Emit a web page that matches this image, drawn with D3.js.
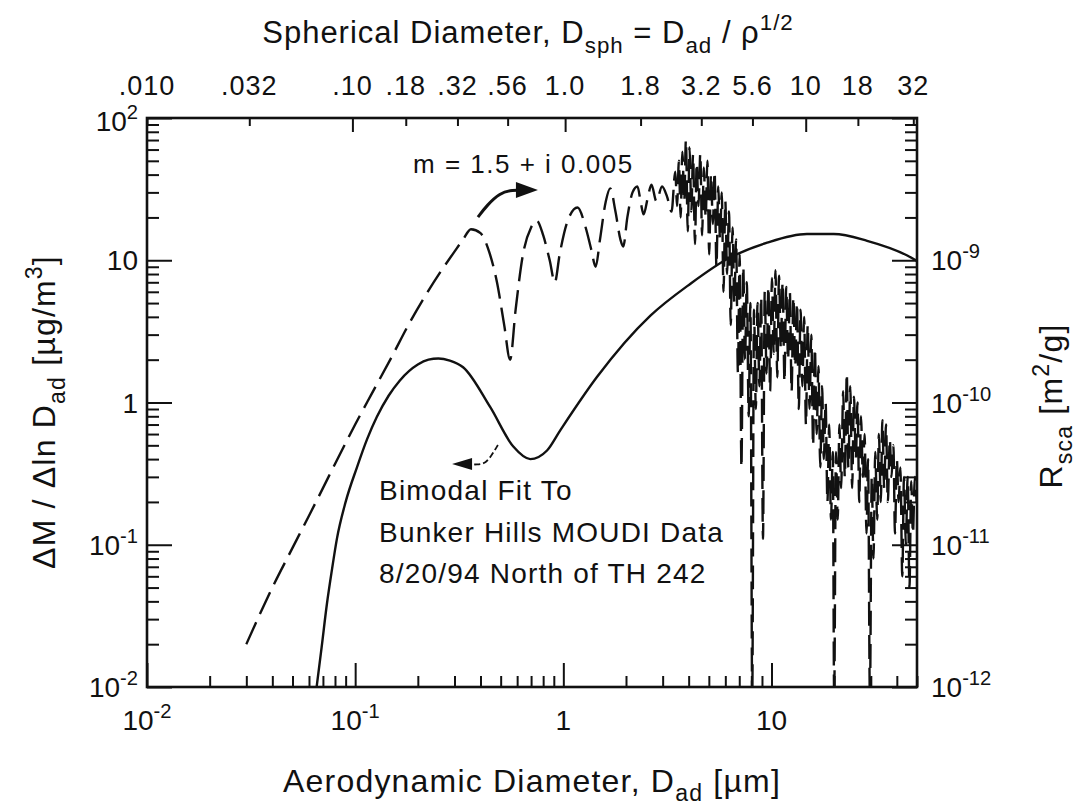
<!DOCTYPE html>
<html>
<head>
<meta charset="utf-8">
<script src="https://cdn.jsdelivr.net/npm/d3@7"></script>
<style>
  body { margin: 0; background: #fff; }
  text { font-family: "Liberation Sans", Arial, Helvetica, sans-serif; fill: #111; }
</style>
</head>
<body>
<svg id="chart" width="1083" height="807"></svg>
<script>
// ---- Bimodal mass distribution fit (left axis), dM/dlnD in ug/m^3 ----
const fitDad  = [0.0650, 0.0690, 0.0731, 0.0775, 0.0817, 0.090, 0.102, 0.114, 0.127, 0.145, 0.164, 0.200, 0.225, 0.251, 0.285, 0.330,
                 0.445, 0.575, 0.694, 0.835, 0.968, 1.45, 2.62, 4.08, 6.13, 9.53, 14.8, 19.9, 28.8, 44.9, 50];
const fitMass = [0.0095, 0.019, 0.038, 0.068, 0.11, 0.20, 0.35, 0.55, 0.79, 1.12, 1.43, 1.85, 2.0, 2.04, 1.97, 1.77,
                 0.93, 0.49, 0.40, 0.46, 0.64, 1.51, 4.08, 6.84, 10.2, 13.3, 15.3, 15.3, 13.7, 10.8, 9.9];

// ---- Scattering per unit mass for m = 1.5 + i0.005 (right axis), m^2/g ----
// smooth resonance region
const mieDad  = [0.030, 0.035, 0.040, 0.050, 0.060, 0.070, 0.080, 0.100, 0.120, 0.150, 0.180, 0.220, 0.260, 0.300, 0.330, 0.360,
                 0.400, 0.440, 0.480, 0.520, 0.555, 0.590, 0.640, 0.700, 0.745, 0.800, 0.860, 0.910, 0.960, 1.05, 1.17, 1.28,
                 1.36, 1.43, 1.50, 1.60, 1.68, 1.78, 1.88, 1.94, 2.03, 2.15, 2.27, 2.36, 2.43, 2.55, 2.65, 2.80, 2.98, 3.15, 3.31];
const mieRsca = [2.0e-12, 3.3e-12, 5.0e-12, 9.5e-12, 1.6e-11, 2.5e-11, 3.7e-11, 7.0e-11, 1.15e-10, 2.1e-10, 3.5e-10, 5.8e-10, 8.5e-10, 1.15e-9, 1.4e-9, 1.65e-9,
                 1.55e-9, 1.15e-9, 7.0e-10, 3.5e-10, 2.0e-10, 4.5e-10, 1.1e-9, 1.7e-9, 1.9e-9, 1.5e-9, 1.0e-9, 7.0e-10, 1.1e-9, 1.9e-9, 2.35e-9, 1.7e-9,
                 1.2e-9, 9.0e-10, 1.4e-9, 2.6e-9, 3.2e-9, 2.2e-9, 1.4e-9, 1.25e-9, 2.0e-9, 3.0e-9, 3.3e-9, 2.5e-9, 2.1e-9, 2.8e-9, 3.4e-9, 2.6e-9, 3.3e-9, 2.8e-9, 2.2e-9];
// dense ripple region, 3.45 - 20 um
const rippleDad  = [3.45, 3.52, 3.59, 3.66, 3.73, 3.81, 3.88, 3.96, 4.04, 4.12, 4.20, 4.29, 4.37, 4.46, 4.55, 4.64, 4.73, 4.83, 4.92, 5.02,
                    5.12, 5.23, 5.33, 5.44, 5.55, 5.66, 5.77, 5.88, 6.00, 6.12, 6.25, 6.37, 6.50, 6.63, 6.76, 6.90, 7.03, 7.17, 7.32, 7.46,
                    7.61, 7.77, 7.92, 8.08, 8.24, 8.41, 8.57, 8.75, 8.92, 9.10, 9.28, 9.47, 9.66, 9.85, 10.05, 10.25, 10.45, 10.66, 10.87, 11.09,
                    11.31, 11.54, 11.77, 12.01, 12.25, 12.49, 12.74, 13.0, 13.26, 13.52, 13.79, 14.07, 14.35, 14.64, 14.93, 15.23, 15.53, 15.84, 16.16, 16.48,
                    16.81, 17.15, 17.49, 17.84, 18.2, 18.56, 18.93, 19.31, 19.7];
const rippleRsca = [4.2e-9, 2.4e-9, 5.0e-9, 2.0e-9, 5.8e-9, 2.6e-9, 7.0e-9, 1.6e-9, 6.2e-9, 2.2e-9, 5.5e-9, 1.3e-9, 4.8e-9, 2.4e-9, 5.6e-9, 1.5e-9, 4.5e-9, 2.0e-9, 5.0e-9, 1.1e-9,
                    4.0e-9, 1.8e-9, 4.2e-9, 9e-10, 3.3e-9, 1.4e-9, 3.0e-9, 6e-10, 2.6e-9, 8e-10, 2.2e-9, 3.5e-10, 1.7e-9, 5e-10, 1.4e-9, 1.6e-10, 1.1e-9, 3.5e-11, 9e-10, 2.0e-10,
                    7e-10, 8e-11, 5e-10, 8e-13, 4.5e-10, 9e-11, 5e-10, 1.3e-10, 5.5e-10, 1.1e-11, 6e-10, 1.6e-10, 6.5e-10, 1.2e-10, 7.5e-10, 2.2e-10, 8.5e-10, 1.5e-10, 7.8e-10, 2.4e-10,
                    7e-10, 1.4e-10, 6.5e-10, 2.0e-10, 6e-10, 1.2e-10, 5.5e-10, 1.8e-10, 5e-10, 9e-11, 4.5e-10, 1.3e-10, 4e-10, 7e-11, 3.5e-10, 9e-11, 3e-10, 5e-11, 2.4e-10, 6e-11,
                    1.8e-10, 3.5e-11, 1.3e-10, 4e-11, 1.0e-10, 2e-11, 7e-11, 1.5e-11, 4.5e-11];
// dense ripple region, 20 - 50 um
const tailDad  = [20.0, 20.4, 20.8, 21.2, 21.6, 22.1, 22.5, 23.0, 23.4, 23.9, 24.4, 24.9, 25.4, 25.9, 26.4, 26.9, 27.5, 28.0, 28.6, 29.1,
                  29.7, 30.3, 30.9, 31.5, 32.2, 32.8, 33.5, 34.1, 34.8, 35.5, 36.2, 37.0, 37.7, 38.5, 39.2, 40.0, 40.8, 41.6, 42.5, 43.3,
                  44.2, 45.1, 46.0, 46.9, 47.8, 48.8, 49.8];
const tailRsca = [8e-13, 4.5e-11, 1.5e-11, 7e-11, 2.5e-11, 1.2e-10, 3e-11, 1.6e-10, 3.5e-11, 1.3e-10, 2.5e-11, 1.1e-10, 4e-11, 1.0e-10, 2e-11, 8e-11, 3e-11, 6e-11, 1.2e-11, 4e-11,
                  8e-13, 3e-11, 8e-12, 4.5e-11, 1.5e-11, 6e-11, 2e-11, 7.5e-11, 2.5e-11, 7e-11, 2e-11, 5.5e-11, 3e-11, 5e-11, 1.2e-11, 4e-11, 2e-11, 3.5e-11, 6e-12, 3e-11,
                  1e-11, 3e-11, 5e-12, 2.8e-11, 1.2e-11, 3e-11, 2e-11];

// ---- Axis ticks and labels ----
const xLabelValues = [0.01, 0.1, 1, 10];
const xLabelBase   = ["10", "10", "1", "10"];
const xLabelExp    = ["-2", "-1", "", ""];
const yLLabelValues = [100, 10, 1, 0.1, 0.01];
const yLLabelBase   = ["10", "10", "1", "10", "10"];
const yLLabelExp    = ["2", "", "", "-1", "-2"];
const yRLabelValues = [1e-9, 1e-10, 1e-11, 1e-12];
const yRLabelBase   = ["10", "10", "10", "10"];
const yRLabelExp    = ["-9", "-10", "-11", "-12"];
// spherical-diameter ticks and the aerodynamic diameter at which each falls
const sphTickLabels = [".010", ".032", ".10", ".18", ".32", ".56", "1.0", "1.8", "3.2", "5.6", "10", "18", "32"];
const sphTickAtDad  = [0.010, 0.031, 0.097, 0.175, 0.31, 0.54, 1.02, 2.35, 4.6, 8.1, 14.6, 26, 48];
const sphTickMajor  = [false, false, true, false, false, false, true, false, false, false, true, false, false];

// ---- Annotation anchors (data coordinates) ----
const mieArrowDad  = [0.389, 0.43, 0.496, 0.566];
const mieArrowRsca = [2.01e-9, 2.44e-9, 2.97e-9, 3.12e-9];
const mieArrowTip  = [0.755, 3.12e-9];
const fitArrowDad  = [0.485, 0.454, 0.425, 0.389];
const fitArrowMass = [0.503, 0.428, 0.376, 0.364];
const fitArrowTip  = [0.292, 0.37];

const svg = d3.select("#chart");
const pLeft = 147, pRight = 917, pTop = 118, pBottom = 687;

const x  = d3.scaleLog().domain([0.01, 50]).range([pLeft, pRight]);
const yL = d3.scaleLog().domain([0.01, 100]).range([pBottom, pTop]);
const yR = d3.scaleLog().domain([1e-12, 1e-8]).range([pBottom, pTop]);

const isDecade = v => Math.abs(Math.log10(v) - Math.round(Math.log10(v))) < 1e-6;

svg.append("defs").append("clipPath").attr("id", "plotClip")
  .append("rect").attr("x", pLeft).attr("y", pTop).attr("width", pRight - pLeft).attr("height", pBottom - pTop);

// ---- rich text helper (sub/superscripts) ----
function rich(g, parts, size, subShift) {
  let shift = 0;
  parts.forEach(([t, mode]) => {
    const target = mode === 1 ? (subShift || 0.32) : mode === 2 ? -0.42 : 0;
    g.append("tspan")
      .attr("font-size", mode ? (size * 0.72) + "px" : size + "px")
      .attr("dy", ((target - shift) * size) + "px")
      .text(t);
    shift = target;
  });
  return g;
}

// ---- curves ----
const plot = svg.append("g").attr("clip-path", "url(#plotClip)");

const fitLine = d3.line().x((d, i) => x(fitDad[i])).y((d, i) => yL(fitMass[i])).curve(d3.curveMonotoneX);
plot.append("path").attr("d", fitLine(fitDad))
  .attr("fill", "none").attr("stroke", "#111").attr("stroke-width", 2.4);

const mieAll = mieDad.map((d, i) => [d, mieRsca[i]])
  .concat(rippleDad.map((d, i) => [d, rippleRsca[i]]))
  .concat(tailDad.map((d, i) => [d, tailRsca[i]]));
const mieLine = d3.line().x(d => x(d[0])).y(d => yR(Math.max(d[1], 5e-13))).curve(d3.curveMonotoneX);
plot.append("path").attr("d", mieLine(mieAll))
  .attr("fill", "none").attr("stroke", "#111").attr("stroke-width", 2.4)
  .attr("stroke-dasharray", "24,9");

// ---- frame ----
svg.append("rect").attr("x", pLeft).attr("y", pTop).attr("width", pRight - pLeft).attr("height", pBottom - pTop)
  .attr("fill", "none").attr("stroke", "#111").attr("stroke-width", 2.6);

// ---- ticks ----
function tickStyle(g) {
  g.select(".domain").remove();
  g.selectAll("line").attr("stroke", "#111").attr("stroke-width", 2);
}
const xt = x.ticks();
svg.append("g").attr("transform", `translate(0,${pBottom})`)
  .call(d3.axisBottom(x).tickValues(xt.filter(v => !isDecade(v))).tickSize(-11).tickFormat("")).call(tickStyle);
svg.append("g").attr("transform", `translate(0,${pBottom})`)
  .call(d3.axisBottom(x).tickValues(xt.filter(isDecade)).tickSize(-24).tickFormat("")).call(tickStyle);

const ylt = yL.ticks();
svg.append("g").attr("transform", `translate(${pLeft},0)`)
  .call(d3.axisLeft(yL).tickValues(ylt.filter(v => !isDecade(v))).tickSize(-12).tickFormat("")).call(tickStyle);
svg.append("g").attr("transform", `translate(${pLeft},0)`)
  .call(d3.axisLeft(yL).tickValues(ylt.filter(isDecade)).tickSize(-25).tickFormat("")).call(tickStyle);

const yrt = yR.ticks();
svg.append("g").attr("transform", `translate(${pRight},0)`)
  .call(d3.axisRight(yR).tickValues(yrt.filter(v => !isDecade(v))).tickSize(-12).tickFormat("")).call(tickStyle);
svg.append("g").attr("transform", `translate(${pRight},0)`)
  .call(d3.axisRight(yR).tickValues(yrt.filter(isDecade)).tickSize(-25).tickFormat("")).call(tickStyle);

svg.append("g").attr("transform", `translate(0,${pTop})`)
  .call(d3.axisTop(x).tickValues(sphTickAtDad.filter((d, i) => !sphTickMajor[i])).tickSize(-8).tickFormat("")).call(tickStyle);
svg.append("g").attr("transform", `translate(0,${pTop})`)
  .call(d3.axisTop(x).tickValues(sphTickAtDad.filter((d, i) => sphTickMajor[i])).tickSize(-14).tickFormat("")).call(tickStyle);

// ---- tick labels ----
const TL = 28;
xLabelValues.forEach((v, i) => {
  const t = svg.append("text").attr("x", x(v)).attr("y", pBottom + 43).attr("text-anchor", "middle");
  rich(t, xLabelExp[i] ? [[xLabelBase[i], 0], [xLabelExp[i], 2]] : [[xLabelBase[i], 0]], TL);
});
yLLabelValues.forEach((v, i) => {
  const t = svg.append("text").attr("x", pLeft - 9).attr("y", yL(v) + (i === 0 ? 13 : 10)).attr("text-anchor", "end");
  rich(t, yLLabelExp[i] ? [[yLLabelBase[i], 0], [yLLabelExp[i], 2]] : [[yLLabelBase[i], 0]], TL);
});
yRLabelValues.forEach((v, i) => {
  const t = svg.append("text").attr("x", pRight + 14).attr("y", yR(v) + 10).attr("text-anchor", "start");
  rich(t, [[yRLabelBase[i], 0], [yRLabelExp[i], 2]], TL);
});
sphTickLabels.forEach((s, i) => {
  svg.append("text").attr("x", x(sphTickAtDad[i])).attr("y", 95).attr("text-anchor", "middle")
    .attr("font-size", "27px").attr("letter-spacing", "1px").text(s);
});

// ---- axis titles ----
rich(svg.append("text").attr("x", 532).attr("y", 792).attr("text-anchor", "middle").attr("letter-spacing", "1.2px"),
  [["Aerodynamic Diameter, D", 0], ["ad", 1], [" [\u00b5m]", 0]], 32, 0.28);
rich(svg.append("text").attr("x", 528).attr("y", 43).attr("text-anchor", "middle").attr("letter-spacing", "1px"),
  [["Spherical Diameter, D", 0], ["sph", 1], [" = D", 0], ["ad", 1], [" / \u03c1", 0], ["1/2", 2]], 31);
rich(svg.append("text").attr("text-anchor", "middle").attr("letter-spacing", "1.2px")
    .attr("transform", "translate(55,412) rotate(-90)"),
  [["\u0394M / \u0394ln D", 0], ["ad", 1], [" [\u00b5g/m", 0], ["3", 2], ["]", 0]], 32);
rich(svg.append("text").attr("text-anchor", "middle").attr("letter-spacing", "1.2px")
    .attr("transform", "translate(1062,406) rotate(-90)"),
  [["R", 0], ["sca", 1], [" [m", 0], ["2", 2], ["/g]", 0]], 32);

// ---- annotations ----
svg.append("text").attr("x", 413).attr("y", 173).attr("font-size", "26px").attr("letter-spacing", "1.5px")
  .text("m = 1.5 + i 0.005");
["Bimodal Fit To", "Bunker Hills MOUDI Data", "8/20/94 North of TH 242"].forEach((s, i) => {
  svg.append("text").attr("x", 379).attr("y", 500 + i * 41.5).attr("font-size", "28px")
    .attr("letter-spacing", "1.2px").text(s);
});

function arrowHead(tip, from, len, half) {
  const dx = tip[0] - from[0], dy = tip[1] - from[1];
  const L = Math.hypot(dx, dy), ux = dx / L, uy = dy / L;
  const bx = tip[0] - ux * len, by = tip[1] - uy * len;
  return `M${tip[0]},${tip[1]}L${bx - uy * half},${by + ux * half}L${bx + uy * half},${by - ux * half}Z`;
}
// arrow pointing to the right-hand axis
const mPts = mieArrowDad.map((d, i) => [x(d), yR(mieArrowRsca[i])]);
const mTip = [x(mieArrowTip[0]), yR(mieArrowTip[1])];
svg.append("path").attr("d", d3.line().curve(d3.curveBasis)(mPts.concat([[mTip[0] - 12, mTip[1]]])))
  .attr("fill", "none").attr("stroke", "#111").attr("stroke-width", 3);
svg.append("path").attr("d", arrowHead(mTip, [mTip[0] - 20, mTip[1]], 22, 8)).attr("fill", "#111");

// arrow pointing to the left-hand axis
const fPts = fitArrowDad.map((d, i) => [x(d), yL(fitArrowMass[i])]);
const fTip = [x(fitArrowTip[0]), yL(fitArrowTip[1])];
svg.append("path").attr("d", d3.line().curve(d3.curveBasis)(fPts.concat([[fTip[0] + 12, fTip[1]]])))
  .attr("fill", "none").attr("stroke", "#111").attr("stroke-width", 1.8).attr("stroke-dasharray", "6,3");
svg.append("path").attr("d", arrowHead(fTip, [fTip[0] + 20, fTip[1]], 20, 6)).attr("fill", "#111");
</script>
</body>
</html>
